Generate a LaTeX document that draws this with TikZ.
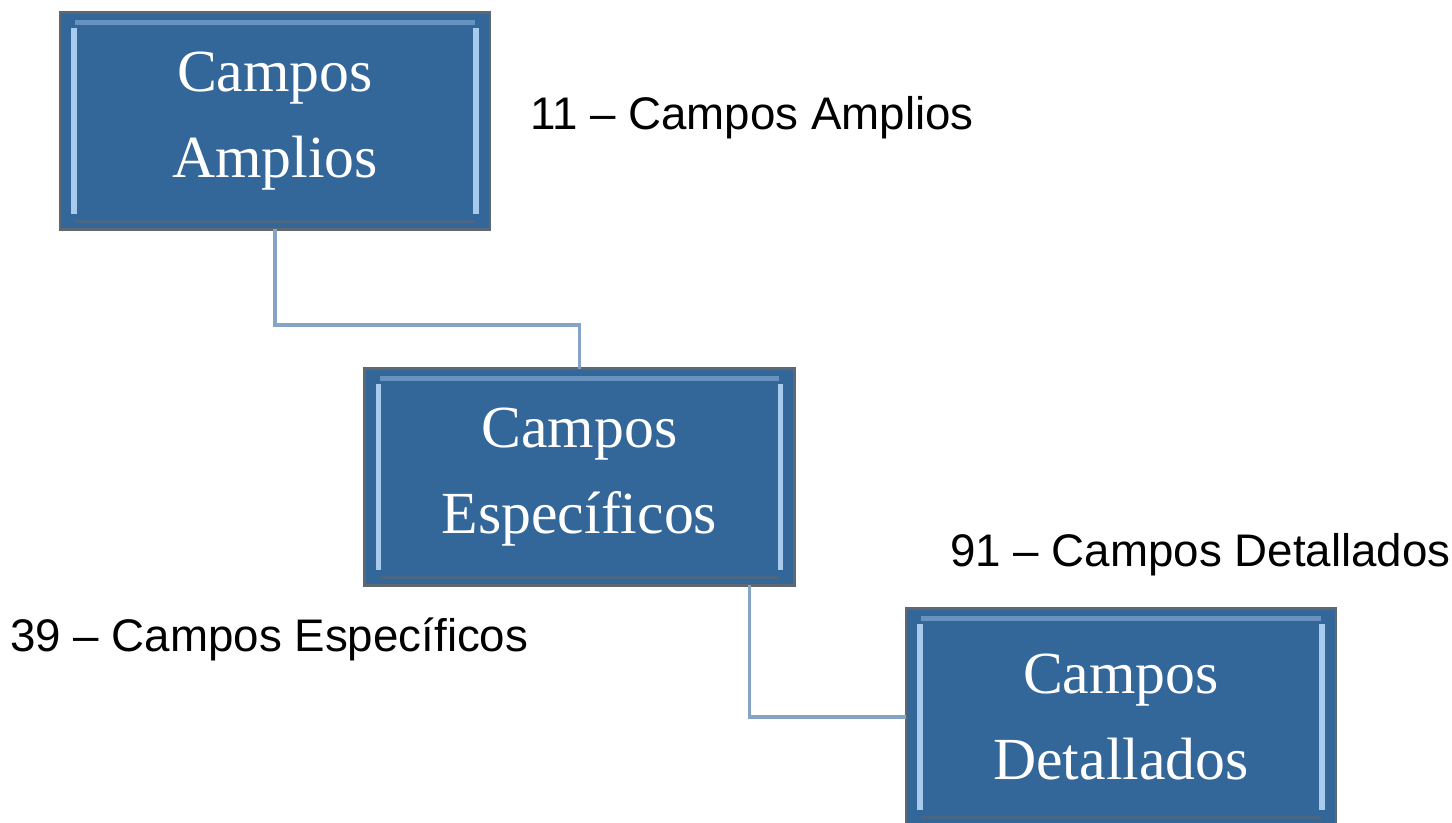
\documentclass[tikz,border=0pt]{standalone}
\usepackage{fontspec}
\setmainfont{Liberation Serif}
\newfontfamily\labelfont{Liberation Sans}
\definecolor{boxblue}{HTML}{336699}
\definecolor{boxedge}{HTML}{5F6770}
\definecolor{bevel}{HTML}{A9CBEB}
\definecolor{linkblue}{HTML}{86A4C6}
\tikzset{
  campo/.style={draw=boxedge,line width=1.2pt,fill=boxblue,text=white,align=center,
    minimum width=8.6cm,minimum height=4.34cm,outer sep=0pt,
    font=\fontsize{34}{48.5}\selectfont,
    path picture={
      \fill[bevel] ([xshift=0.22cm,yshift=0.3cm]path picture bounding box.south west) rectangle ([xshift=0.33cm,yshift=-0.3cm]path picture bounding box.north west);
      \fill[bevel] ([xshift=-0.22cm,yshift=0.3cm]path picture bounding box.south east) rectangle ([xshift=-0.33cm,yshift=-0.3cm]path picture bounding box.north east);
      \fill[bevel!45!boxblue] ([xshift=0.3cm,yshift=-0.14cm]path picture bounding box.north west) rectangle ([xshift=-0.3cm,yshift=-0.24cm]path picture bounding box.north east);
      \fill[boxedge!50!boxblue] ([xshift=0.3cm,yshift=0.12cm]path picture bounding box.south west) rectangle ([xshift=-0.3cm,yshift=0.18cm]path picture bounding box.south east);
    }},
  zahl/.style={anchor=west,inner sep=0pt,font=\labelfont\fontsize{26}{30}\selectfont},
  link/.style={draw=linkblue,line width=1.8pt}
}
\begin{document}
\begin{tikzpicture}[x=0.02cm,y=-0.02cm]
	\useasboundingbox (0,0) rectangle (1452,822);
	\node[campo] (A) at (275,121) {Campos\\Amplios};
	\node[campo] (B) at (579.5,477) {Campos\\Específicos};
	\node[campo] (C) at (1121,717) {Campos\\Detallados};
	\node[zahl] (LA) at (530,118) {11 – Campos Amplios};
	\node[zahl] (LB) at (10,639) {39 – Campos Específicos};
	\node[zahl] (LC) at (950,555) {91 – Campos Detallados};
	\draw[link] (A.south) |- (B.north |- 0,325) -- (B.north);
	\draw[link] ([xshift=-0.9cm]B.south east) |- (C.west);
\end{tikzpicture}
\end{document}
